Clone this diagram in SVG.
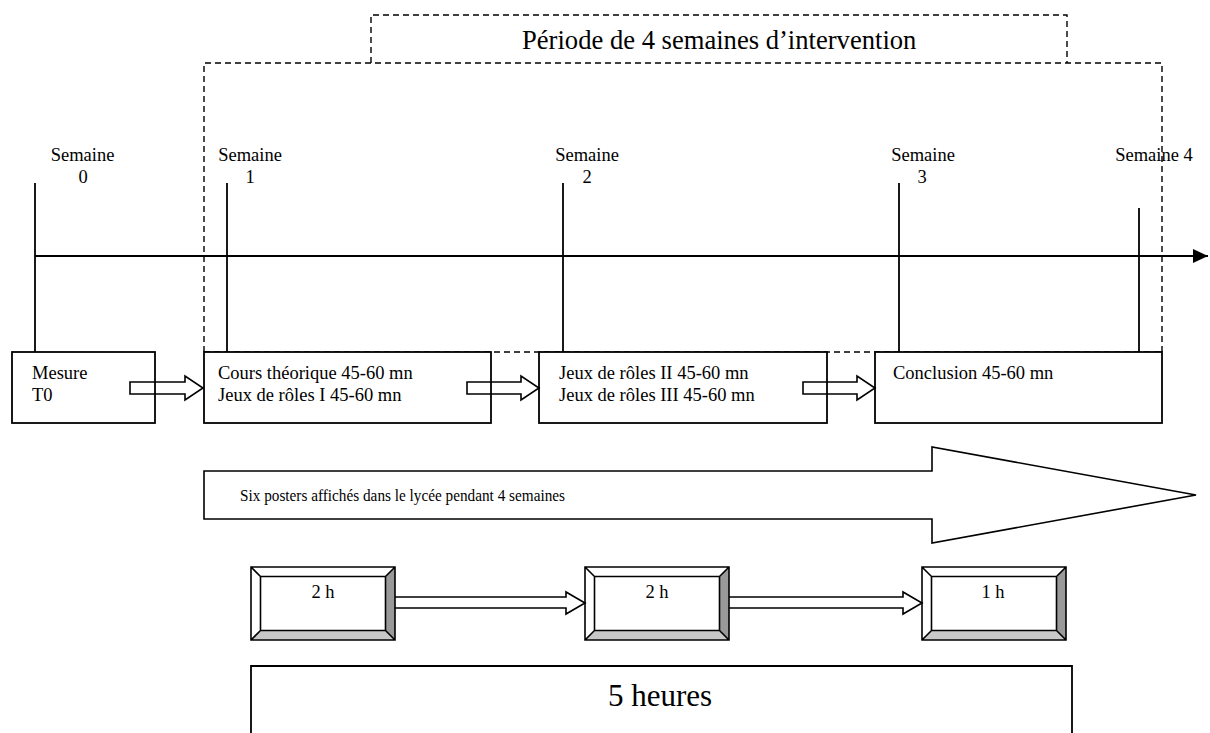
<svg xmlns="http://www.w3.org/2000/svg" width="1210" height="733" viewBox="0 0 1210 733">
<style>
text{font-family:"Liberation Serif","Times New Roman",serif;fill:#000}
.t{font-size:18.5px}
.box{fill:#fff;stroke:#000;stroke-width:1.8}
.dash{fill:none;stroke:#000;stroke-width:1.4;stroke-dasharray:6 4}
.ln{stroke:#000;stroke-width:1.8;fill:none}
.blk{fill:none;stroke:#000;stroke-width:1.6;stroke-linejoin:miter}
.bv{stroke:#000;stroke-width:1.6;fill:none}
.dk{fill:#999}
.lt{fill:#c8c8c8}
</style>
<defs>
<marker id="ah" markerWidth="16" markerHeight="14" refX="15" refY="7" orient="auto" markerUnits="userSpaceOnUse">
<path d="M0,0 L15,7 L0,14 Z" fill="#000"/>
</marker>
</defs>

<g id="period">
<path class="dash" d="M371,63 V15 H1067 V63"/>
<path class="dash" d="M204,352 V63 H1162 V352"/>
<path class="dash" d="M204,352 H1162"/>
<text x="522" y="49" style="font-size:26.6px">Période de 4 semaines d’intervention</text>
</g>

<g id="timeline">
<line class="ln" x1="35" y1="256" x2="1208" y2="256" marker-end="url(#ah)"/>
<line class="ln" x1="35" y1="183" x2="35" y2="352"/>
<line class="ln" x1="227" y1="183" x2="227" y2="352"/>
<line class="ln" x1="563" y1="183" x2="563" y2="352"/>
<line class="ln" x1="899" y1="183" x2="899" y2="352"/>
<line class="ln" x1="1139" y1="208" x2="1139" y2="352"/>
<text class="t" x="82.5" y="161" text-anchor="middle">Semaine</text>
<text class="t" x="83" y="183" text-anchor="middle">0</text>
<text class="t" x="250" y="161" text-anchor="middle">Semaine</text>
<text class="t" x="250" y="183" text-anchor="middle">1</text>
<text class="t" x="587" y="161" text-anchor="middle">Semaine</text>
<text class="t" x="587" y="183" text-anchor="middle">2</text>
<text class="t" x="923" y="161" text-anchor="middle">Semaine</text>
<text class="t" x="922" y="183" text-anchor="middle">3</text>
<text class="t" x="1154" y="161" text-anchor="middle">Semaine 4</text>
</g>

<g id="box-t0">
<rect class="box" x="12" y="352" width="143" height="71"/>
<text class="t" x="32" y="379">Mesure</text>
<text class="t" x="32" y="401">T0</text>
</g>
<g id="box-s1">
<rect class="box" x="204" y="352" width="287" height="71"/>
<text class="t" x="218" y="379">Cours théorique 45-60 mn</text>
<text class="t" x="218" y="401">Jeux de rôles I 45-60 mn</text>
</g>
<g id="box-s2">
<rect class="box" x="539" y="352" width="288" height="71"/>
<text class="t" x="559" y="379">Jeux de rôles II 45-60 mn</text>
<text class="t" x="559" y="401">Jeux de rôles III 45-60 mn</text>
</g>
<g id="box-s3">
<rect class="box" x="875" y="352" width="287" height="71"/>
<text class="t" x="893" y="379">Conclusion 45-60 mn</text>
</g>

<g id="posters">
<path class="blk" d="M204,471 H932 V447 L1196,495 L932,543 V519 H204 Z"/>
<text x="240" y="501" style="font-size:17.5px" textLength="325" lengthAdjust="spacingAndGlyphs">Six posters affichés dans le lycée pendant 4 semaines</text>
</g>

<g id="h1">
<rect x="251" y="567" width="144" height="73" fill="#fff"/>
<path class="dk" d="M395,567 V640 L385.5,630.5 V576.5 Z"/>
<path class="lt" d="M251,640 H395 L385.5,630.5 H260.5 Z"/>
<path class="bv" d="M251,567 H395 V640 H251 Z M260.5,576.5 H385.5 V630.5 H260.5 Z M251,567 L260.5,576.5 M395,567 L385.5,576.5 M395,640 L385.5,630.5 M251,640 L260.5,630.5"/>
<text class="t" x="323" y="598" text-anchor="middle">2 h</text>
</g>
<g id="h2">
<rect x="585" y="567" width="144" height="73" fill="#fff"/>
<path class="dk" d="M729,567 V640 L719.5,630.5 V576.5 Z"/>
<path class="lt" d="M585,640 H729 L719.5,630.5 H594.5 Z"/>
<path class="bv" d="M585,567 H729 V640 H585 Z M594.5,576.5 H719.5 V630.5 H594.5 Z M585,567 L594.5,576.5 M729,567 L719.5,576.5 M729,640 L719.5,630.5 M585,640 L594.5,630.5"/>
<text class="t" x="657" y="598" text-anchor="middle">2 h</text>
</g>
<g id="h3">
<rect x="922" y="567" width="144" height="73" fill="#fff"/>
<path class="dk" d="M1066,567 V640 L1056.5,630.5 V576.5 Z"/>
<path class="lt" d="M922,640 H1066 L1056.5,630.5 H931.5 Z"/>
<path class="bv" d="M922,567 H1066 V640 H922 Z M931.5,576.5 H1056.5 V630.5 H931.5 Z M922,567 L931.5,576.5 M1066,567 L1056.5,576.5 M1066,640 L1056.5,630.5 M922,640 L931.5,630.5"/>
<text class="t" x="993" y="598" text-anchor="middle">1 h</text>
</g>

<g id="total">
<path class="ln" d="M251,740 V666 H1072 V740"/>
<text x="660" y="706" text-anchor="middle" style="font-size:31px">5 heures</text>
</g>

<g id="connectors">
<path class="blk" d="M130,382 H185 V376 L203,388 L185,400 V394 H130 Z"/>
<path class="blk" d="M467,382 H521 V376 L539,388 L521,400 V394 H467 Z"/>
<path class="blk" d="M803,382 H857 V376 L875,388 L857,400 V394 H803 Z"/>
<path class="blk" d="M395,597 H566 V592 L585,603 L566,614 V608 H395"/>
<path class="blk" d="M729,597 H903 V592 L922,603 L903,614 V608 H729"/>
</g>
</svg>
